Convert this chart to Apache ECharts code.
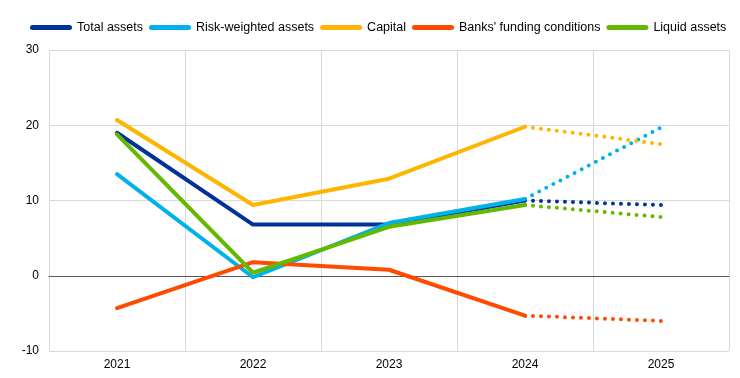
<!DOCTYPE html>
<html><head><meta charset="utf-8">
<script src="https://cdn.jsdelivr.net/npm/echarts@6/dist/echarts.min.js"></script>
<style>html,body{margin:0;padding:0;background:#fff}#c{width:740px;height:378px}</style>
</head><body><div id="c"></div>
<script>
const categories = ['2021','2022','2023','2024','2025'];
const names = ['Total assets','Risk-weighted assets','Capital',"Banks' funding conditions",'Liquid assets'];
const colors = ['#003299','#00B1EA','#FFB400','#FF4B00','#65B800'];
const totalAssets = [19.0, 6.8, 6.8, 10.0, 9.4];
const riskWeighted = [13.5, -0.2, 7.0, 10.2, 19.7];
const capital = [20.7, 9.4, 12.9, 19.8, 17.5];
const funding = [-4.3, 1.8, 0.8, -5.3, -6.0];
const liquid = [18.8, 0.4, 6.5, 9.4, 7.8];
const yTicks = {min: -10, max: 30, interval: 10};
const lastActual = 3; // index of last solid point

const all = [totalAssets, riskWeighted, capital, funding, liquid];
const series = [];
all.forEach((d, i) => {
  series.push({
    name: names[i], type: 'line', symbol: 'none', z: 3,
    data: d.map((v, k) => k <= lastActual ? v : null),
    lineStyle: {color: colors[i], width: 4, cap: 'round', join: 'round'},
    itemStyle: {color: colors[i]}
  });
});
all.forEach((d, i) => {
  series.push({
    name: names[i] + ' (f)', type: 'line', symbol: 'none', z: 2,
    data: d.map((v, k) => k >= lastActual ? v : null),
    lineStyle: {color: colors[i], width: 4, type: [0, 8], cap: 'round'},
    itemStyle: {color: colors[i]}
  });
});

const chart = echarts.init(document.getElementById('c'));
chart.setOption({
  animation: false,
  textStyle: {fontFamily: 'Liberation Sans, Arial, sans-serif'},
  legend: {
    data: names.map((n, i) => ({name: n, icon: 'path://M2.5,0 L39.5,0 A2.5,2.5 0 0 1 39.5,5 L2.5,5 A2.5,2.5 0 0 1 2.5,0 Z', itemStyle: {color: colors[i]}})),
    top: 21, left: 30, width: 740, padding: 0, itemWidth: 42, itemHeight: 5, itemGap: 6,
    textStyle: {fontSize: 12.5, color: '#000'}
  },
  grid: {left: 49, right: 11, top: 50, bottom: 27, containLabel: false},
  xAxis: {
    type: 'category', data: categories, boundaryGap: true,
    axisLine: {onZero: true, lineStyle: {color: '#595959', width: 1}},
    axisTick: {show: false},
    axisLabel: {fontSize: 12, color: '#000', margin: 8},
    splitLine: {show: true, lineStyle: {color: '#d9d9d9', width: 1}}
  },
  yAxis: {
    type: 'value', min: yTicks.min, max: yTicks.max, interval: yTicks.interval,
    axisLine: {show: false}, axisTick: {show: false},
    axisLabel: {fontSize: 12, color: '#000', margin: 10},
    splitLine: {lineStyle: {color: '#d9d9d9', width: 1}}
  },
  series: series
});
</script></body></html>
